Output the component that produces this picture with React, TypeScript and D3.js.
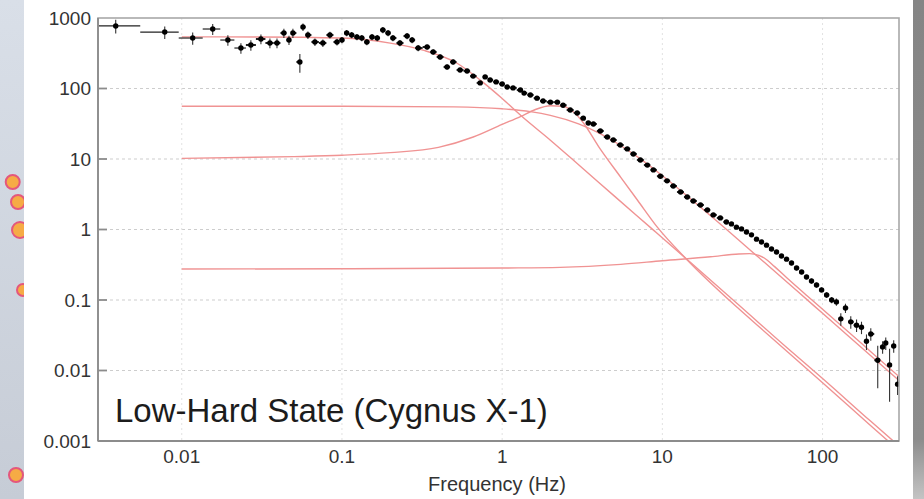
import React, { useEffect, useRef } from 'react';
import * as d3 from 'd3';

const W = 924, H = 499;

// measured power spectrum (Hz, power)
const freq = [
  0.00387, 0.00783, 0.0117, 0.0156, 0.0194, 0.0234, 0.027, 0.0312, 0.0355, 0.0393,
  0.0434, 0.0467, 0.0494, 0.0546, 0.0571, 0.0613, 0.0678, 0.076, 0.0841, 0.0931,
  0.1, 0.107, 0.115, 0.124, 0.133, 0.143, 0.154, 0.166, 0.18, 0.194,
  0.208, 0.23, 0.255, 0.274, 0.299, 0.34, 0.371, 0.41, 0.453, 0.494,
  0.546, 0.604, 0.659, 0.729, 0.783, 0.841, 0.917, 1.0, 1.075, 1.17,
  1.3, 1.37, 1.5, 1.65, 1.8, 2.0, 2.21, 2.4, 2.66, 2.94,
  3.21, 3.45, 3.71, 4.1, 4.53, 4.94, 5.46, 6.04, 6.59, 7.29,
  8.06, 8.79, 9.72, 10.7, 11.7, 13.0, 14.3, 15.6, 17.3, 19.1,
  20.8, 23.0, 25.1, 27.0, 29.0, 31.2, 33.5, 36.0, 38.7, 41.6,
  44.7, 48.0, 51.6, 55.4, 59.6, 64.0, 68.8, 74.0, 79.4, 85.3,
  91.7, 98.6, 106, 114, 122, 130, 139, 150, 163, 175,
  188, 200, 221, 237, 248, 262, 278, 294,
];
const power = [
  771, 632, 520, 698, 487, 375, 414, 504, 442, 442,
  612, 487, 612, 238, 745, 574, 457, 442, 574, 457,
  487, 612, 574, 537, 520, 457, 537, 520, 676, 612,
  520, 442, 555, 487, 375, 388, 330, 280, 202, 238,
  183, 177, 150, 120, 146, 132, 124, 116, 105, 102,
  95, 86, 81, 73, 66.5, 64, 64, 58, 49.5, 45,
  38, 32.4, 31.4, 25, 20.5, 18.6, 15.8, 13.9, 11.8, 9.7,
  8.2, 7.0, 5.7, 4.9, 4.14, 3.4, 2.89, 2.54, 2.23, 1.89,
  1.61, 1.46, 1.28, 1.2, 1.08, 1.02, 0.92, 0.84, 0.73, 0.665,
  0.6, 0.53, 0.48, 0.42, 0.38, 0.335, 0.284, 0.249, 0.212, 0.186,
  0.163, 0.139, 0.118, 0.1, 0.094, 0.054, 0.077, 0.049, 0.044, 0.041,
  0.026, 0.033, 0.014, 0.0216, 0.0245, 0.012, 0.0223, 0.0064,
];
// relative error of each point
const relErr = [
  0.22, 0.2, 0.2, 0.18, 0.17, 0.17, 0.17, 0.16, 0.16, 0.16,
  0.15, 0.15, 0.15, 0.3, 0.12, 0.12, 0.12, 0.12, 0.11, 0.11,
  0.1, 0.1, 0.1, 0.1, 0.1, 0.1, 0.1, 0.1, 0.1, 0.1,
  0.1, 0.1, 0.1, 0.1, 0.1, 0.08, 0.08, 0.08, 0.08, 0.08,
  0.06, 0.06, 0.06, 0.06, 0.06, 0.06, 0.06, 0.06, 0.06, 0.06,
  0.06, 0.06, 0.06, 0.06, 0.06, 0.06, 0.06, 0.06, 0.06, 0.06,
  0.05, 0.05, 0.05, 0.05, 0.05, 0.05, 0.05, 0.05, 0.05, 0.05,
  0.05, 0.05, 0.05, 0.05, 0.05, 0.05, 0.05, 0.05, 0.05, 0.05,
  0.05, 0.05, 0.05, 0.05, 0.05, 0.05, 0.05, 0.05, 0.05, 0.05,
  0.06, 0.06, 0.06, 0.06, 0.06, 0.07, 0.07, 0.07, 0.07, 0.08,
  0.08, 0.08, 0.09, 0.1, 0.12, 0.2, 0.15, 0.2, 0.2, 0.2,
  0.25, 0.2, 0.6, 0.2, 0.2, 0.7, 0.2, 0.3,
];

// fitted Lorentzian components
const compAFreq = [0.01, 0.03, 0.1, 0.2, 0.32, 0.52, 0.76, 1.0, 1.33, 2, 3, 5, 8.8, 15, 30, 60, 100, 200, 300];
const compAPow = [540, 538, 520, 440, 350, 230, 122, 72, 40, 18.5, 8.3, 3.0, 0.98, 0.34, 0.085, 0.021, 0.0077, 0.0019, 0.00085];

const compBFreq = [0.01, 0.1, 0.5, 1, 1.5, 2, 3, 4, 5, 7, 10, 20, 40, 70, 100, 200, 300];
const compBPow = [56, 56, 54.8, 51.5, 46.9, 41.6, 31.5, 23.5, 17.7, 10.7, 5.8, 1.57, 0.4, 0.132, 0.0647, 0.0162, 0.0072];

const compCFreq = [0.01, 0.05, 0.1, 0.2, 0.4, 0.66, 1.0, 1.3, 1.6, 2.0, 2.4, 2.8, 3.2, 4.0, 5.5, 7, 9.3, 14.3, 30, 41, 100, 200, 300];
const compCPow = [10.2, 10.8, 11.3, 12.3, 14.6, 20.5, 31, 40, 50, 57, 56, 46, 33, 15, 5.5, 2.6, 1.08, 0.37, 0.075, 0.04, 0.0067, 0.00165, 0.00073];

const compDFreq = [0.01, 0.1, 1, 2.3, 5.5, 10, 20, 30, 35, 40, 45, 50, 60, 80, 100, 150, 200, 300];
const compDPow = [0.275, 0.277, 0.284, 0.29, 0.32, 0.36, 0.41, 0.45, 0.455, 0.43, 0.37, 0.3, 0.205, 0.115, 0.074, 0.033, 0.0185, 0.0082];

const xTicks = [0.01, 0.1, 1, 10, 100];
const xTickLabels = ['0.01', '0.1', '1', '10', '100'];
const yTicks = [0.001, 0.01, 0.1, 1, 10, 100, 1000];
const yTickLabels = ['0.001', '0.01', '0.1', '1', '10', '100', '1000'];

const FONT = '"Liberation Sans", Arial, Helvetica, sans-serif';

export default function App() {
  const ref = useRef<SVGSVGElement>(null);

  useEffect(() => {
    const svg = d3.select(ref.current);
    svg.selectAll('*').remove();

    const left = 98, right = 899, top = 18, bottom = 441;
    const x = d3.scaleLog().domain([0.003, 300]).range([left, right]);
    const y = d3.scaleLog().domain([0.001, 1000]).range([bottom, top]);

    // slide background
    const defs = svg.append('defs');
    const gl = defs.append('linearGradient').attr('id', 'leftbg').attr('x1', 0).attr('y1', 0).attr('x2', 0).attr('y2', 1);
    gl.append('stop').attr('offset', '0%').attr('stop-color', '#d9dfe8');
    gl.append('stop').attr('offset', '100%').attr('stop-color', '#c6ccd6');
    const gr = defs.append('linearGradient').attr('id', 'rightbg').attr('x1', 0).attr('y1', 0).attr('x2', 0).attr('y2', 1);
    gr.append('stop').attr('offset', '0%').attr('stop-color', '#858585');
    gr.append('stop').attr('offset', '88%').attr('stop-color', '#8c8c8c');
    gr.append('stop').attr('offset', '100%').attr('stop-color', '#c4c4c4');
    defs.append('clipPath').attr('id', 'plotclip')
      .append('rect').attr('x', left).attr('y', top).attr('width', right - left).attr('height', bottom - top);

    svg.append('rect').attr('width', W).attr('height', H).attr('fill', 'url(#leftbg)');
    const dots = [[12.7, 182, 7], [18, 202, 7], [20, 230, 8], [23, 290, 6], [16, 475, 7]];
    svg.selectAll('.deco').data(dots).enter().append('circle')
      .attr('cx', d => d[0]).attr('cy', d => d[1]).attr('r', d => d[2])
      .attr('fill', '#f6ab45').attr('stroke', '#e4577c').attr('stroke-width', 2);
    svg.append('rect').attr('x', 913).attr('y', 0).attr('width', 11).attr('height', H).attr('fill', 'url(#rightbg)');
    svg.append('rect').attr('x', 24).attr('y', 0).attr('width', 889).attr('height', H).attr('fill', '#ffffff');

    // grid
    svg.selectAll('.hgrid').data(yTicks.slice(1, -1)).enter().append('line')
      .attr('x1', left).attr('x2', right).attr('y1', d => y(d)).attr('y2', d => y(d))
      .attr('stroke', '#cdcdcd').attr('stroke-width', 1).attr('stroke-dasharray', '3,3');
    svg.selectAll('.vgrid').data(xTicks).enter().append('line')
      .attr('x1', d => x(d)).attr('x2', d => x(d)).attr('y1', top).attr('y2', bottom)
      .attr('stroke', '#e2e2e2').attr('stroke-width', 1).attr('stroke-dasharray', '2,3');

    // model components
    const line = d3.line<[number, number]>()
      .x(d => x(d[0])).y(d => y(d[1]))
      .curve(d3.curveMonotoneX);
    const comps = [
      [compAFreq, compAPow], [compBFreq, compBPow], [compCFreq, compCPow], [compDFreq, compDPow],
    ];
    const gm = svg.append('g').attr('clip-path', 'url(#plotclip)');
    comps.forEach(([fs, ps]) => {
      gm.append('path')
        .attr('d', line(fs.map((f, i) => [f, ps[i]] as [number, number])))
        .attr('fill', 'none').attr('stroke', '#f09393').attr('stroke-width', 1.4);
    });

    // data with error bars
    const edges = freq.map((f, i) => {
      const prev = i > 0 ? freq[i - 1] : f * f / freq[i + 1];
      const next = i < freq.length - 1 ? freq[i + 1] : f * f / freq[i - 1];
      return [Math.sqrt(prev * f), Math.sqrt(f * next)];
    });
    const gd = svg.append('g').attr('clip-path', 'url(#plotclip)');
    gd.selectAll('.hbar').data(freq).enter().append('line')
      .attr('x1', (d, i) => x(edges[i][0])).attr('x2', (d, i) => x(edges[i][1]))
      .attr('y1', (d, i) => y(power[i])).attr('y2', (d, i) => y(power[i]))
      .attr('stroke', '#222').attr('stroke-width', (d, i) => (i < 6 ? 1.2 : 2));
    gd.selectAll('.vbar').data(freq).enter().append('line')
      .attr('x1', d => x(d)).attr('x2', d => x(d))
      .attr('y1', (d, i) => y(Math.max(power[i] * (1 - relErr[i]), 0.0011)))
      .attr('y2', (d, i) => y(power[i] * (1 + relErr[i])))
      .attr('stroke', '#333').attr('stroke-width', 1.1);
    gd.selectAll('.pt').data(freq).enter().append('circle')
      .attr('cx', d => x(d)).attr('cy', (d, i) => y(power[i])).attr('r', 2.7)
      .attr('fill', '#000');

    // frame and ticks
    svg.append('rect').attr('x', left).attr('y', top).attr('width', right - left).attr('height', bottom - top)
      .attr('fill', 'none').attr('stroke', '#a8a8a8').attr('stroke-width', 1.6);
    svg.append('line').attr('x1', left).attr('x2', left).attr('y1', top).attr('y2', bottom)
      .attr('stroke', '#8c8c8c').attr('stroke-width', 1.8);
    svg.append('line').attr('x1', left).attr('x2', right).attr('y1', bottom).attr('y2', bottom)
      .attr('stroke', '#8c8c8c').attr('stroke-width', 1.8);
    svg.selectAll('.ytick').data(yTicks.slice(1, -1)).enter().append('line')
      .attr('x1', left).attr('x2', left + 9).attr('y1', d => y(d)).attr('y2', d => y(d))
      .attr('stroke', '#8c8c8c').attr('stroke-width', 1.8);

    svg.selectAll('.ylab').data(yTicks).enter().append('text')
      .attr('x', 91).attr('y', d => y(d)).attr('dy', '0.36em')
      .attr('text-anchor', 'end').attr('font-family', FONT).attr('font-size', 19)
      .attr('fill', '#333').text((d, i) => yTickLabels[i]);
    svg.selectAll('.xlab').data(xTicks).enter().append('text')
      .attr('x', d => x(d)).attr('y', 463)
      .attr('text-anchor', 'middle').attr('font-family', FONT).attr('font-size', 19)
      .attr('fill', '#333').text((d, i) => xTickLabels[i]);
    svg.append('text').attr('x', 497).attr('y', 491).attr('text-anchor', 'middle')
      .attr('font-family', FONT).attr('font-size', 20).attr('fill', '#333')
      .text('Frequency (Hz)');

    svg.append('text').attr('x', 115).attr('y', 422)
      .attr('font-family', FONT).attr('font-size', 33).attr('fill', '#1c1c1c')
      .text('Low-Hard State (Cygnus X-1)');
  }, []);

  return <svg ref={ref} width={W} height={H} style={{ position: 'absolute', left: 0, top: 0 }} />;
}
